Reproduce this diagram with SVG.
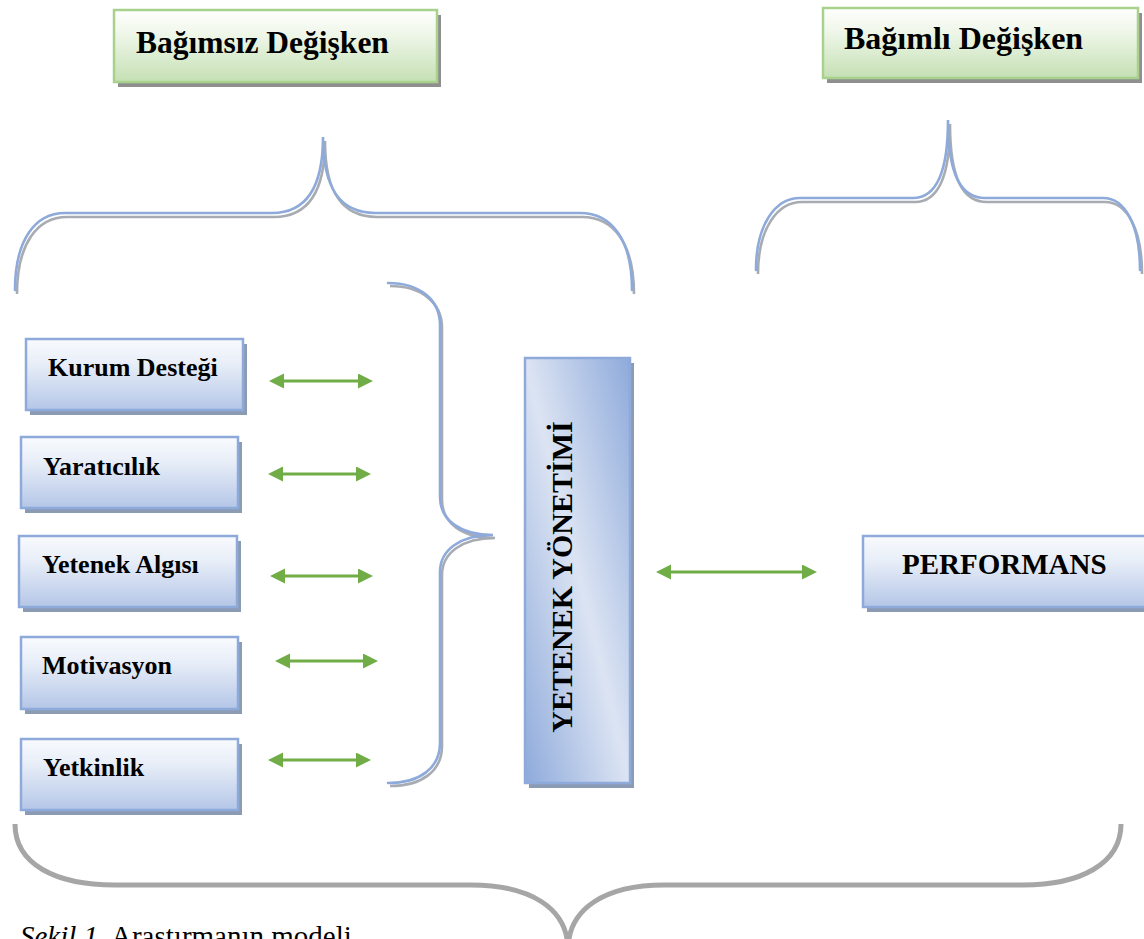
<svg xmlns="http://www.w3.org/2000/svg" xmlns:xlink="http://www.w3.org/1999/xlink" width="1144" height="939" viewBox="0 0 1144 939">
<style>
.lbl{font-family:"Liberation Serif","Times New Roman",serif;font-weight:bold;fill:#000}
.blue{fill:url(#gBlue);stroke:#8eaadb;stroke-width:2.5}
.green{fill:url(#gGreen);stroke:#a9d18e;stroke-width:2.5}
.shadowB{fill:#8c9bb4}
.shadowG{fill:#8f8f8f}
.brace{fill:none;stroke:#8eaadb;stroke-width:2.6;stroke-linecap:round}
.braceSh{fill:none;stroke:#8a8f98;stroke-width:2.6;opacity:0.75}
.arrow{stroke:#70ad47;stroke-width:3;fill:none;marker-start:url(#ah);marker-end:url(#ah)}
.cap{font-family:"Liberation Serif","Times New Roman",serif;font-size:29px;fill:#000}
</style>
<defs>
<linearGradient id="gBlue" x1="0" y1="0" x2="0" y2="1">
<stop offset="0" stop-color="#f8fafd"/>
<stop offset="0.35" stop-color="#e8eef8"/>
<stop offset="1" stop-color="#b4c6e7"/>
</linearGradient>
<linearGradient id="gGreen" x1="0" y1="0" x2="0" y2="1">
<stop offset="0" stop-color="#ffffff"/>
<stop offset="0.35" stop-color="#eef6e8"/>
<stop offset="1" stop-color="#c5e0b4"/>
</linearGradient>
<linearGradient id="gYon" x1="0" y1="1" x2="1" y2="0">
<stop offset="0" stop-color="#8eaadb"/>
<stop offset="0.5" stop-color="#dce4f3"/>
<stop offset="1" stop-color="#8eaadb"/>
</linearGradient>
<marker id="ah" markerUnits="userSpaceOnUse" markerWidth="16" markerHeight="16" refX="5" refY="7.5" orient="auto-start-reverse" viewBox="0 0 16 16">
<path d="M0,0 L15,7.5 L0,15 z" fill="#70ad47"/>
</marker>
<path id="braceTL" d="M15,290 C15,240 35,213 65,213 L272,213 C305,213 323,190 323,137 C323,190 341,213 375,213 L580,213 C612,213 632,240 632,290"/>
<path id="braceTR" d="M756,270 C756,225 775,198 800,198 L913,198 C935,198 948,175 948,120 C948,175 961,198 985,198 L1103,198 C1125,198 1140,225 1140,270"/>
<path id="braceM" d="M388,283 C420,283 440,300 440,325 L440,497 C440,520 460,535 493,535 C460,535 440,550 440,572 L440,743 C440,768 420,783 388,783"/>
</defs>

<g id="braces">
<use xlink:href="#braceTL" class="braceSh" transform="translate(2,4)"/>
<use xlink:href="#braceTL" class="brace"/>
<use xlink:href="#braceTR" class="braceSh" transform="translate(2,4)"/>
<use xlink:href="#braceTR" class="brace"/>
<use xlink:href="#braceM" class="braceSh" transform="translate(2,3)"/>
<use xlink:href="#braceM" class="brace"/>
<path d="M15,824 C15,864 55,885 115,885 L471,885 C530,885 568,908 568,950 C568,908 606,885 664,885 L1023,885 C1080,885 1121,864 1121,824" fill="none" stroke="#a6a6a6" stroke-width="5"/>
</g>

<g id="bagimsiz">
<rect x="118" y="15" width="323" height="72" class="shadowG"/>
<rect x="114" y="10" width="323" height="72" class="green"/>
<text x="136" y="53" class="lbl" font-size="31.5">Bağımsız Değişken</text>
</g>

<g id="bagimli">
<rect x="827" y="13" width="315" height="70" class="shadowG"/>
<rect x="823" y="8" width="315" height="70" class="green"/>
<text x="844" y="49" class="lbl" font-size="32">Bağımlı Değişken</text>
</g>

<g id="kurum">
<rect x="30" y="344" width="217" height="71" class="shadowB"/>
<rect x="26" y="339" width="217" height="71" class="blue"/>
<text x="48" y="376" class="lbl" font-size="26">Kurum Desteği</text>
</g>

<g id="yaraticilik">
<rect x="25" y="442" width="217" height="71" class="shadowB"/>
<rect x="21" y="437" width="217" height="71" class="blue"/>
<text x="43" y="475" class="lbl" font-size="26">Yaratıcılık</text>
</g>

<g id="algi">
<rect x="23" y="541" width="218" height="71" class="shadowB"/>
<rect x="19" y="536" width="218" height="71" class="blue"/>
<text x="42" y="573" class="lbl" font-size="26">Yetenek Algısı</text>
</g>

<g id="motivasyon">
<rect x="25" y="642" width="217" height="72" class="shadowB"/>
<rect x="21" y="637" width="217" height="72" class="blue"/>
<text x="42" y="674" class="lbl" font-size="26">Motivasyon</text>
</g>

<g id="yetkinlik">
<rect x="25" y="744" width="217" height="71" class="shadowB"/>
<rect x="21" y="739" width="217" height="71" class="blue"/>
<text x="43" y="776" class="lbl" font-size="26">Yetkinlik</text>
</g>

<g id="yonetim">
<rect x="529" y="363" width="105" height="425" class="shadowB"/>
<rect x="525" y="358" width="105" height="425" fill="url(#gYon)" stroke="#8eaadb" stroke-width="2.5"/>
<text transform="translate(572,577) rotate(-90)" text-anchor="middle" class="lbl" font-size="30">YETENEK YÖNETİMİ</text>
</g>

<g id="performans">
<rect x="867" y="541" width="300" height="71" class="shadowB"/>
<rect x="863" y="536" width="300" height="71" class="blue"/>
<text x="902" y="574" class="lbl" font-size="29">PERFORMANS</text>
</g>

<g id="connectors">
<line x1="279" y1="381" x2="363" y2="381" class="arrow"/>
<line x1="278" y1="474" x2="361" y2="474" class="arrow"/>
<line x1="280" y1="576" x2="363" y2="576" class="arrow"/>
<line x1="285" y1="661" x2="368" y2="661" class="arrow"/>
<line x1="278" y1="760" x2="361" y2="760" class="arrow"/>
<line x1="666" y1="572" x2="807" y2="572" class="arrow"/>
</g>

<g id="caption">
<text x="20" y="946" class="cap"><tspan font-style="italic">Şekil 1.</tspan> Araştırmanın modeli</text>
</g>
</svg>
